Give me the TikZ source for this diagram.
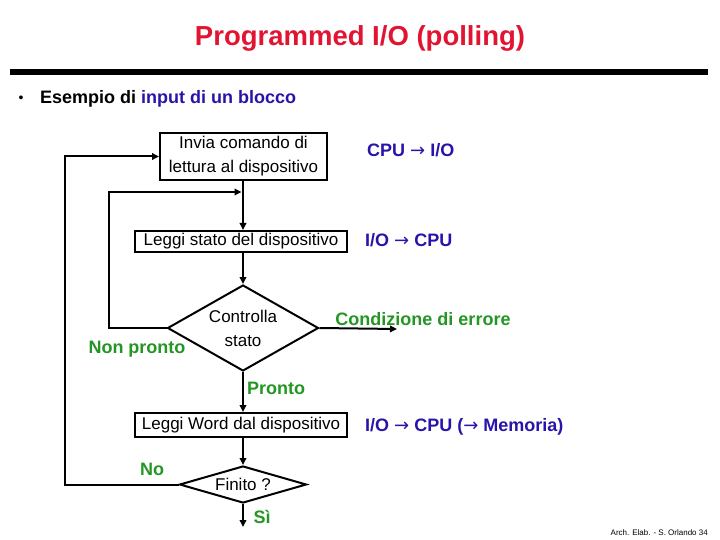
\documentclass[tikz,border=0pt]{standalone}
\usepackage{fontspec}
\setmainfont{Liberation Sans}
\newfontfamily\arrowfont{DejaVu Sans}
\newcommand{\rarr}{{\arrowfont\mdseries →}}
\usetikzlibrary{arrows.meta,shapes.geometric}
\definecolor{ttred}{RGB}{225,20,50}
\definecolor{bblue}{RGB}{40,20,170}
\definecolor{ggreen}{RGB}{35,150,35}
\begin{document}
\begin{tikzpicture}[x=1pt,y=-1pt,
  box/.style={draw, line width=2pt, inner sep=0pt, font=\fontsize{17}{24}\selectfont, align=center},
  dia/.style={draw, diamond, line width=2pt, inner sep=0pt, font=\fontsize{17}{24}\selectfont, align=center},
  flow/.style={line width=2pt, -{Triangle[length=7pt,width=6.5pt]}},
  glab/.style={text=ggreen, font=\bfseries\fontsize{18}{20}\selectfont, inner sep=0pt},
  blab/.style={text=bblue, font=\bfseries\fontsize{18}{20}\selectfont, inner sep=0pt}]
\useasboundingbox (0,0) rectangle (720,540);
% title
\node[text=ttred, font=\bfseries\fontsize{27.5}{30}\selectfont, inner sep=0pt] (title) at (360,38) {Programmed I/O (polling)};
\fill (10,69) rectangle (708,75);
\node[font=\fontsize{14}{16}\selectfont, inner sep=0pt] (bul) at (21,99) {•};
\node[anchor=west, font=\bfseries\fontsize{18}{20}\selectfont, inner sep=0pt] (esempio) at (40,99) {Esempio di \textcolor{bblue}{input di un blocco}};
% flowchart
\node[box, minimum width=167pt, minimum height=47pt] (b1) at (243.5,156.5) {Invia comando di\\lettura al dispositivo};
\node[box, minimum width=212pt, minimum height=21pt] (b2) at (241,241.5) {Leggi stato del dispositivo};
\node[dia, minimum width=151pt, minimum height=86pt, shape aspect=1.76] (d1) at (243,328) {Controlla\\stato};
\node[box, minimum width=212pt, minimum height=24pt] (b3) at (241,425) {Leggi Word dal dispositivo};
\node[dia, minimum width=127pt, minimum height=37pt, shape aspect=3.4] (d2) at (243,484.5) {\raisebox{-2pt}{Finito ?}};
\coordinate (j1) at (243,192);
\coordinate (err) at (397,329);
\coordinate (fine) at (243,527);
\draw[flow] (b1.south -| d1.north) -- (d1.north |- b2.north);
\draw[flow] (d1.west) -| (109,192) -- ([xshift=-1.5pt]j1);
\draw[flow] (b2.south -| d1.north) -- (d1.north);
\draw[flow] (d1.east) -- (err);
\draw[flow] (d1.south) -- (d1.south |- b3.north);
\draw[flow] (b3.south -| d2.north) -- (d2.north);
\draw[flow] (d2.west) -| (65,156.5) -- (b1.west);
\draw[flow] (d2.south) -- (fine);
% labels
\node[glab] (np) at (137,349) {Non pronto};
\node[glab] (ce) at (423,319) {Condizione di errore};
\node[glab, anchor=west] (pr) at (247,388) {Pronto};
\node[glab] (no) at (152,469) {No};
\node[glab] (si) at (262,517) {Sì};
\node[blab, anchor=west] (t1) at (367,150) {CPU \rarr{} I/O};
\node[blab, anchor=west] (t2) at (365,240) {I/O \rarr{} CPU};
\node[blab, anchor=west] (t3) at (365,427) {I/O \rarr{} CPU (\rarr{} Memoria)};
\node[anchor=east, font=\fontsize{8}{9}\selectfont, inner sep=0pt] (foot) at (708,533) {Arch. Elab. - S. Orlando 34};
\end{tikzpicture}
\end{document}
